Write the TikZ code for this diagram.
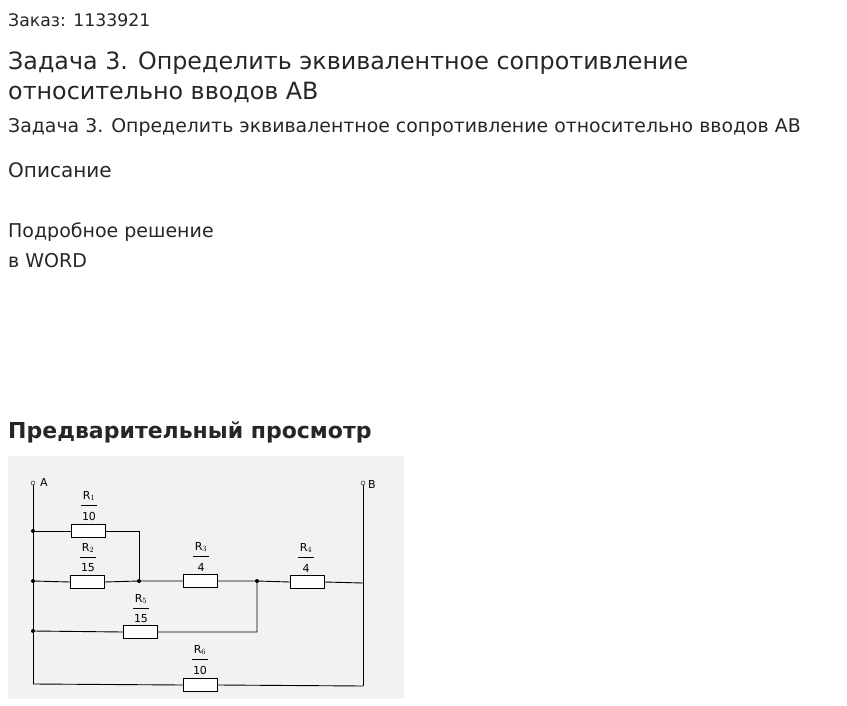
\documentclass[tikz,border=0pt]{standalone}
\usepackage{fontspec}
\setmainfont{DejaVu Sans}
\begin{document}
\begin{tikzpicture}[x=1pt,y=-1pt,
 txt/.style={anchor=west,inner sep=0,text=black!85},
 res/.style={draw,fill=white,minimum width=34pt,minimum height=13pt,inner sep=0},
 lbl/.style={inner sep=0,font=\fontsize{11}{12}\selectfont},
 dot/.style={circle,fill,inner sep=0,minimum size=4pt},
 term/.style={circle,draw,fill=white,inner sep=0,minimum size=4pt},
 w/.style={line width=0.9pt}]
\useasboundingbox (0,0) rectangle (847,706);
\node[txt,font=\fontsize{17.3}{20}\selectfont] (t0) at (8,20) {Заказ: 1133921};
\node[txt,font=\fontsize{23.8}{28}\selectfont] (t1) at (8,63) {Задача 3. Определить эквивалентное сопротивление};
\node[txt,font=\fontsize{23.8}{28}\selectfont] (t2) at (8,92) {относительно вводов АВ};
\node[txt,font=\fontsize{18.9}{22}\selectfont] (t3) at (8,127) {Задача 3. Определить эквивалентное сопротивление относительно вводов АВ};
\node[txt,font=\fontsize{20}{24}\selectfont] (t4) at (8,170) {Описание};
\node[txt,font=\fontsize{19}{22}\selectfont] (t5) at (8,232) {Подробное решение};
\node[txt,font=\fontsize{19}{22}\selectfont] (t6) at (8,261) {в WORD};
\node[txt,font=\bfseries\fontsize{22}{26}\selectfont] (t7) at (8,432) {Предварительный просмотр};
\fill[black!5] (8,456) rectangle (404,699);
\coordinate (A) at (33,483); \coordinate (B) at (363,483);
\coordinate (a1) at (33,531); \coordinate (a2) at (33,581); \coordinate (a3) at (33,631); \coordinate (a4) at (33,684);
\coordinate (c1) at (139,531); \coordinate (j1) at (139,581); \coordinate (j2) at (257,581);
\coordinate (j2b) at (257,632); \coordinate (b1) at (363,583); \coordinate (b2) at (363,686);
\draw[w] (A)--(a4); \draw[w] (B)--(b2);
\node[res] (R1) at (88,531) {}; \node[res] (R2) at (87,582) {};
\node[res] (R3) at (200,581) {}; \node[res] (R4) at (307,582) {};
\node[res] (R5) at (140,632) {}; \node[res] (R6) at (200,685) {};
\draw[w] (a1)--(R1.west) (R1.east)--(c1)--(j1);
\draw[w] (a2)--(R2.west) (R2.east)--(j1)--(R3.west) (R3.east)--(j2)--(R4.west) (R4.east)--(b1);
\draw[w] (a3)--(R5.west) (R5.east)--(j2b)--(j2);
\draw[w] (a4)--(R6.west) (R6.east)--(b2);
\foreach \p in {a1,a2,a3,j1,j2} \node[dot] at (\p) {};
\node[term] (tA) at (A) {}; \node[term] (tB) at (B) {};
\node[lbl,anchor=west] at (40,482) {A};
\node[lbl,anchor=west] at (368,484) {B};
\foreach \r/\i/\v/\x/\y in {R1/1/10/89/496,R2/2/15/88/548,R3/3/4/201/547,R4/4/4/306/548,R5/5/15/141/599,R6/6/10/200/650}{
 \node[lbl] at (\x,\y) {R$_{\i}$};
 \draw[line width=0.6pt] (\x-8,\y+9)--(\x+8,\y+9);
 \node[lbl] at (\x,\y+20) {\v};
}
\end{tikzpicture}
\end{document}
